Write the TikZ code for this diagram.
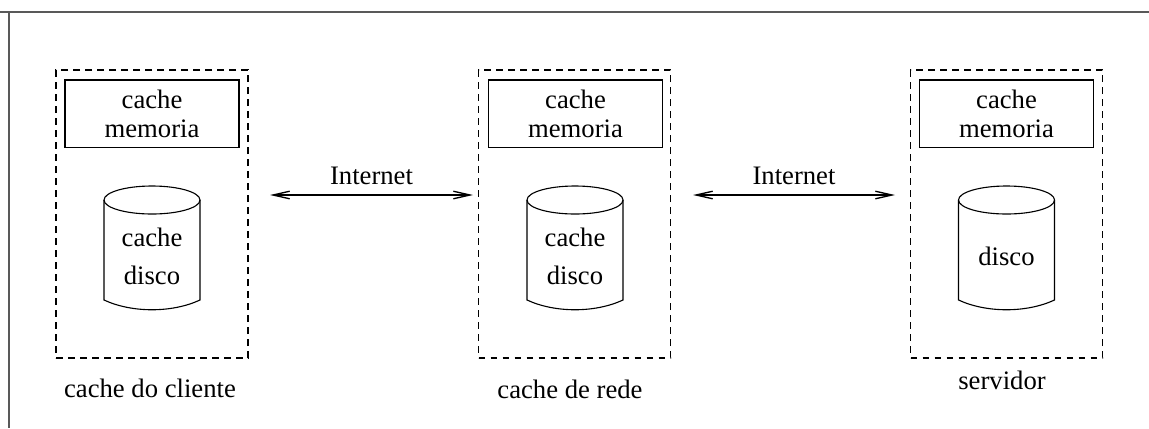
\documentclass[tikz,border=0pt]{standalone}
\usepackage{fontspec}
\setmainfont{Liberation Serif}
\usetikzlibrary{arrows.meta}

\tikzset{
  grupo/.style={draw,dashed,line width=0.5pt,dash pattern=on 3pt off 2.4pt,
    minimum width=86.4pt,minimum height=129.6pt,inner sep=0pt},
  memoria/.style={draw,line width=0.5pt,minimum width=78.3pt,minimum height=30.2pt,
    align=center,inner sep=0pt},
  disktext/.style={align=center,inner sep=0pt},
  rede/.style={{Straight Barb[length=7.5pt,width=3.4pt]}-{Straight Barb[length=7.5pt,width=3.4pt]},line width=0.6pt},
}

% cilindro de disco com o centro em x = #1
\newcommand{\cilindro}[1]{%
  \draw[line width=0.5pt] (#1,200) ellipse [x radius=48,y radius=14];
  \draw[line width=0.5pt] (#1-48,200) -- (#1-48,300)
    .. controls (#1-20,313) and (#1+20,313) .. (#1+48,300) -- (#1+48,200);
}

\begin{document}
\begin{tikzpicture}[x=0.45pt,y=-0.45pt,font=\fontsize{12}{13}\selectfont]
\useasboundingbox (0,0) rectangle (1149,428);

% moldura
\draw[gray!70!black,line width=0.7pt] (0,12) -- (1149,12);
\draw[gray!70!black,line width=0.7pt] (9,12) -- (9,428);

\node(cli) at (152,214)[grupo]{};
\node(red) at (574.5,214)[grupo]{};
\node(srv) at (1006.5,214)[grupo]{};

\node(mcli) at (152,113.5)[memoria]{cache\\memoria};
\node(mred) at (575.5,113.5)[memoria]{cache\\memoria};
\node(msrv) at (1006.5,113.5)[memoria]{cache\\memoria};

\cilindro{152}
\cilindro{575}
\cilindro{1006.5}
\node(dcli) at (152,256)[disktext]{cache\\[4pt]disco};
\node(dred) at (575,256)[disktext]{cache\\[4pt]disco};
\node(dsrv) at (1006.5,256)[disktext]{disco};

\node(lcli) at (150,388){cache do cliente};
\node(lred) at (570,389){cache de rede};
\node(lsrv) at (1002,380){servidor};

\coordinate(a1) at (270,195);
\coordinate(b1) at (473,195);
\coordinate(a2) at (693,195);
\coordinate(b2) at (895,195);

\draw[rede] (a1) -- node[above=1pt] {Internet} (b1);
\draw[rede] (a2) -- node[above=1pt] {Internet} (b2);

\end{tikzpicture}
\end{document}
